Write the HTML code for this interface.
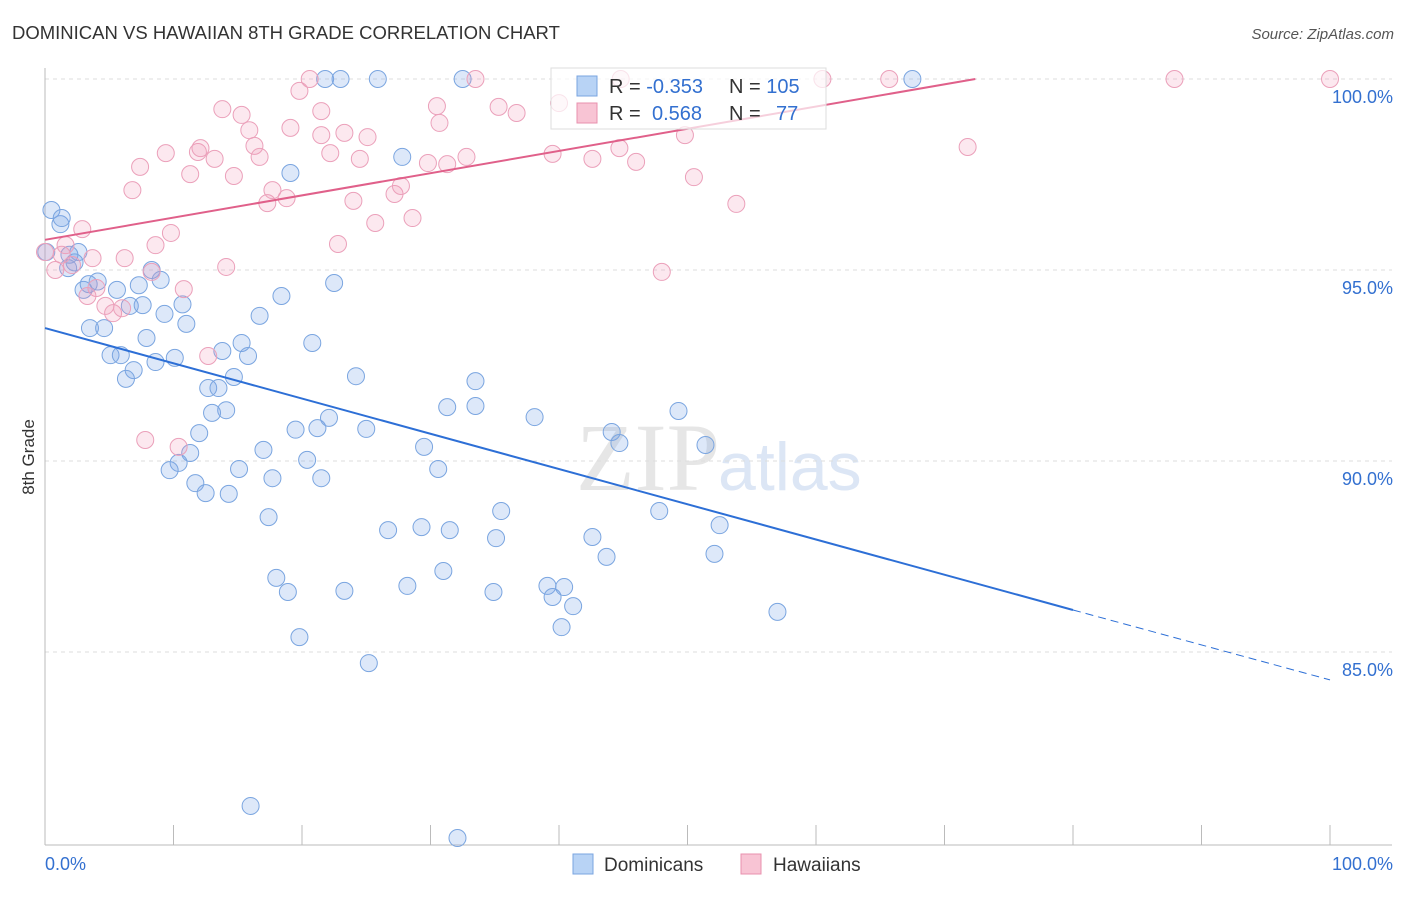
<!DOCTYPE html>
<html><head><meta charset="utf-8"><style>
body{margin:0;background:#fff;font-family:"Liberation Sans",sans-serif;}
</style></head><body>
<svg id="c" width="1406" height="892" xmlns="http://www.w3.org/2000/svg">
<text x="12" y="39" font-size="18.5" fill="#333">DOMINICAN VS HAWAIIAN 8TH GRADE CORRELATION CHART</text>
<text x="1394" y="39" font-size="15" fill="#555" text-anchor="end" font-style="italic">Source: ZipAtlas.com</text>
<text x="720" y="490" font-size="96" fill="#e6e6e6" text-anchor="end" font-family="Liberation Serif">ZIP</text>
<text x="718" y="490" font-size="68" fill="#dce6f5">atlas</text>
<text x="34" y="457" font-size="17" fill="#333" transform="rotate(-90 34 457)" text-anchor="middle">8th Grade</text>
<g id="grid"></g><g id="pts"></g><g id="lines"></g>
<g>
<rect x="551" y="68" width="275" height="61" fill="#fff" fill-opacity="0.7" stroke="#ddd"/>
<rect x="577" y="76" width="20" height="20" fill="#b8d3f5" stroke="#7aa5e0"/>
<rect x="577" y="103" width="20" height="20" fill="#f8c4d4" stroke="#e890ae"/>
<text x="609" y="93" font-size="20" fill="#333">R = <tspan fill="#3370d0">-0.353</tspan></text>
<text x="729" y="93" font-size="20" fill="#333">N = <tspan fill="#3370d0">105</tspan></text>
<text x="609" y="120" font-size="20" fill="#333">R = <tspan fill="#3370d0" x="652">0.568</tspan></text>
<text x="729" y="120" font-size="20" fill="#333">N = <tspan fill="#3370d0" x="776">77</tspan></text>
</g>
<g>
<rect x="573" y="854" width="20" height="20" fill="#b8d3f5" stroke="#7aa5e0"/>
<text x="604" y="871" font-size="19" fill="#333">Dominicans</text>
<rect x="741" y="854" width="20" height="20" fill="#f8c4d4" stroke="#e890ae"/>
<text x="773" y="871" font-size="19" fill="#333">Hawaiians</text>
</g>
</svg>
<script>
const blueX=[0.5,1.2,1.3,1.9,2.6,1.8,3.0,3.4,4.1,5.6,7.3,8.3,9.0,6.6,7.6,10.7,9.3,11.0,3.5,4.6,7.9,5.1,5.9,8.6,10.1,6.9,6.3,13.8,15.3,15.8,16.7,18.4,19.1,22.5,20.8,14.7,12.7,13.5,14.1,13.0,12.0,11.3,10.4,9.7,11.7,12.5,14.3,15.1,17.0,17.7,17.4,19.5,20.4,21.2,22.1,21.5,24.2,25.0,18.0,18.9,19.8,23.3,25.2,26.7,28.2,29.3,29.5,30.6,31.5,31.0,31.3,33.5,33.5,35.1,35.5,34.9,38.1,39.1,39.5,40.4,41.1,40.2,42.6,43.7,44.1,44.7,47.8,49.3,51.4,52.5,52.1,57.0,16.0,32.1,27.8,21.8,23.0,25.9,32.5,67.5,0.1,2.3];
const blueY=[96.57,96.2,96.36,95.4,95.47,95.05,94.48,94.63,94.7,94.48,94.6,95.0,94.74,94.06,94.08,94.1,93.85,93.59,93.48,93.48,93.22,92.77,92.77,92.59,92.7,92.38,92.15,92.88,93.09,92.75,93.8,94.32,97.54,94.66,93.09,92.2,91.91,91.91,91.33,91.26,90.73,90.21,89.95,89.76,89.42,89.16,89.14,89.79,90.29,89.55,88.53,90.82,90.03,90.86,91.13,89.55,92.22,90.84,86.94,86.57,85.39,86.6,84.71,88.19,86.73,88.27,90.37,89.79,88.19,87.12,91.41,91.44,92.09,87.98,88.69,86.57,91.15,86.73,86.44,86.7,86.2,85.65,88.01,87.49,90.76,90.47,88.69,91.31,90.42,88.32,87.57,86.05,80.97,80.13,97.96,100,100,100,100,100,95.47,95.2];
const pinkX=[0,0.8,1.6,2.9,2.1,3.7,4.0,3.3,4.7,5.3,6.0,6.2,6.8,7.4,8.3,8.6,9.4,9.8,10.8,11.3,11.9,12.1,13.2,13.8,14.7,15.3,15.9,16.3,16.7,17.3,17.7,18.8,19.1,19.8,20.6,21.5,21.5,22.2,23.3,22.8,24.0,24.5,25.1,25.7,27.2,27.7,28.6,29.8,30.5,30.7,31.3,32.8,33.5,35.3,36.7,39.5,40.0,42.6,44.7,44.8,46.0,48.0,49.8,50.5,53.8,60.5,65.7,71.8,87.9,100,7.8,10.4,12.7,14.1,1.3];
const pinkY=[95.47,95,95.65,96.07,95.13,95.31,94.53,94.32,94.06,93.87,94.0,95.31,97.09,97.7,94.95,95.65,98.06,95.97,94.5,97.51,98.09,98.19,97.91,99.21,97.46,99.06,98.66,98.25,97.96,96.75,97.09,96.88,98.72,99.69,100,99.16,98.53,98.06,98.59,95.68,96.81,97.91,98.48,96.23,96.99,97.2,96.36,97.8,99.29,98.85,97.77,97.96,100,99.27,99.11,98.04,99.37,97.91,98.19,100,97.83,94.95,98.53,97.43,96.73,100,100,98.22,100,100,90.55,90.37,92.75,95.08,95.4];
const blueTrendX=[0,80,100];
const blueTrendY=[93.48,86.1,84.27];
const pinkTrendX=[0,72.4];
const pinkTrendY=[95.79,100];
const yTicks=[100,95,90,85];
const xTicks=[0,10,20,30,40,50,60,70,80,90,100];
const NS="http://www.w3.org/2000/svg";
const xs=v=>45+v*12.85, ys=v=>79+(100-v)*38.2;
function mk(tag,attrs,parent){const e=document.createElementNS(NS,tag);for(const k in attrs)e.setAttribute(k,attrs[k]);document.getElementById(parent).appendChild(e);return e;}
yTicks.forEach(t=>{
 const l=mk('line',{x1:45,x2:1392,y1:ys(t),y2:ys(t),stroke:'#ddd','stroke-dasharray':'4 4'},'grid');
 
 
 const tx=mk('text',{x:1393,y:ys(t)+24,'font-size':18,fill:'#3370d0','text-anchor':'end'},'grid');
 tx.textContent=t.toFixed(1)+'%';
 
 
});
const ax=mk('line',{x1:45,x2:1392,y1:845,y2:845,stroke:'#bbb'},'grid');


const ay=mk('line',{x1:45,x2:45,y1:68,y2:845,stroke:'#bbb'},'grid');


xTicks.forEach(t=>{
 const l=mk('line',{x1:xs(t),x2:xs(t),y1:825,y2:845,stroke:'#bbb'},'grid');
 
 
});
[[0,'start','0.0%'],[100,'end','100.0%']].forEach(a=>{
 const tx=mk('text',{x:a[0]==0?45:1393,y:870,'font-size':18,fill:'#3370d0','text-anchor':a[1]},'grid');
 tx.textContent=a[2];
 
 
});
blueX.forEach((x,i)=>{
 const c=mk('circle',{cx:xs(x),cy:ys(blueY[i]),r:8.5,fill:'rgba(120,165,230,0.25)',stroke:'#7aa5e0','stroke-width':1},'pts');
 
 
});
pinkX.forEach((x,i)=>{
 const c=mk('circle',{cx:xs(x),cy:ys(pinkY[i]),r:8.5,fill:'rgba(240,150,180,0.22)',stroke:'#eba0ba','stroke-width':1},'pts');
 
 
});
const b1=mk('line',{x1:xs(blueTrendX[0]),y1:ys(blueTrendY[0]),x2:xs(blueTrendX[1]),y2:ys(blueTrendY[1]),stroke:'#2d6fd6','stroke-width':2},'lines');


const b2=mk('line',{x1:xs(blueTrendX[1]),y1:ys(blueTrendY[1]),x2:xs(blueTrendX[2]),y2:ys(blueTrendY[2]),stroke:'#2d6fd6','stroke-width':1,'stroke-dasharray':'8 5'},'lines');


const p1=mk('line',{x1:xs(pinkTrendX[0]),y1:ys(pinkTrendY[0]),x2:xs(pinkTrendX[1]),y2:ys(pinkTrendY[1]),stroke:'#e0608a','stroke-width':2},'lines');


</script>
</body></html>
